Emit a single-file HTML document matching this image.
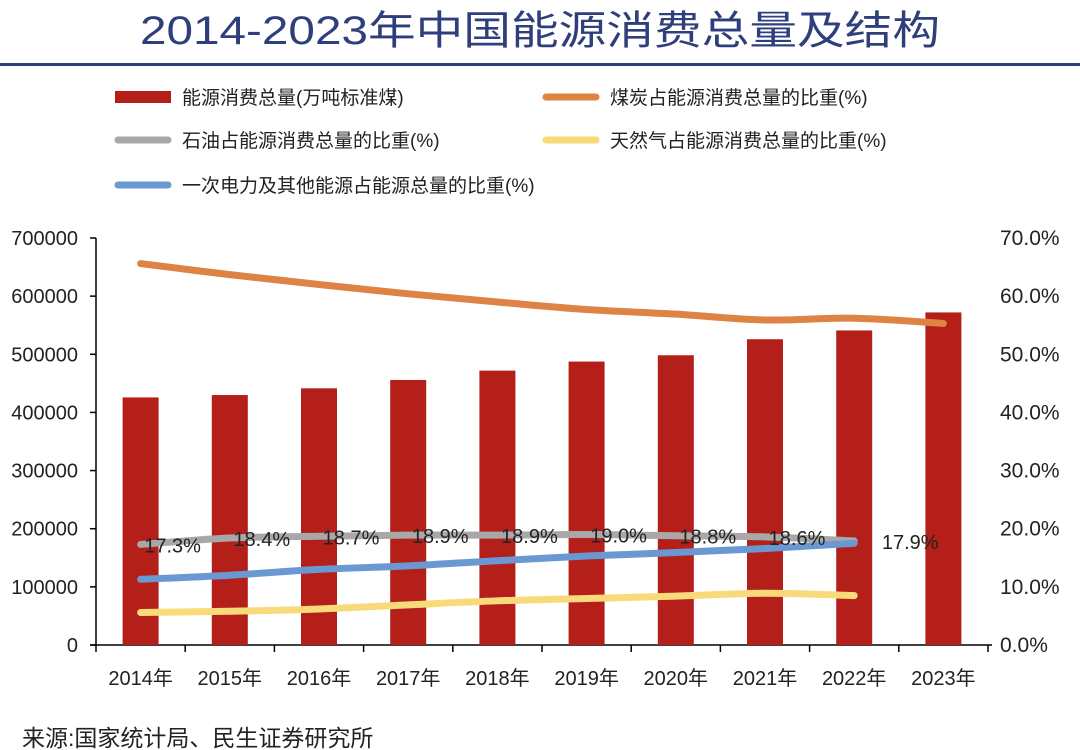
<!DOCTYPE html>
<html><head><meta charset="utf-8"><style>
body{margin:0;background:#fff;width:1080px;height:750px;overflow:hidden;font-family:"Liberation Sans","Noto Sans CJK SC",sans-serif}
svg{position:absolute;left:0;top:0}
</style></head><body>
<svg id="c" width="1080" height="750">
<text x="540" y="44" text-anchor="middle" font-size="40" fill="#2f3f7c" style="font-family:'Liberation Sans','Noto Sans CJK SC',sans-serif" textLength="800" lengthAdjust="spacingAndGlyphs">2014-2023年中国能源消费总量及结构</text>
<rect x="0" y="63" width="1080" height="3" fill="#2f3f7c"/>
<text x="22" y="746" font-size="23" fill="#222">来源:国家统计局、民生证券研究所</text>
</svg>
<script>
const categories=['2014年','2015年','2016年','2017年','2018年','2019年','2020年','2021年','2022年','2023年'];
const totalEnergy=[425806,429905,441492,455827,471925,487488,498314,525896,541000,572000];
const coalShare=[65.6,63.7,62.0,60.4,59.0,57.7,56.9,55.9,56.2,55.3];
const oilShare=[17.3,18.4,18.7,18.9,18.9,19.0,18.8,18.6,17.9];
const oilLabels=['17.3%','18.4%','18.7%','18.9%','18.9%','19.0%','18.8%','18.6%','17.9%'];
const gasShare=[5.6,5.8,6.2,6.9,7.6,8.0,8.4,8.9,8.5];
const elecShare=[11.3,12.0,13.0,13.6,14.5,15.3,15.9,16.6,17.5];
const leftTicks=[0,100000,200000,300000,400000,500000,600000,700000];
const rightTicks=['0.0%','10.0%','20.0%','30.0%','40.0%','50.0%','60.0%','70.0%'];

const svg=document.getElementById('c');const NS='http://www.w3.org/2000/svg';
const X0=96,X1=988,Y0=645,Y1=238;
const band=(X1-X0)/categories.length;
const xc=i=>X0+band*(i+0.5);
const yL=v=>Y0-(v/700000)*(Y0-Y1);
const yR=v=>Y0-(v/70)*(Y0-Y1);
function mk(t,a,name){const e=document.createElementNS(NS,t);for(const k in a)e.setAttribute(k,a[k]);


svg.appendChild(e);return e;}
mk('line',{x1:X0,y1:Y1,x2:X0,y2:Y0,stroke:'#000','stroke-width':1.5},'left-axis');
mk('line',{x1:X0-6,y1:Y0,x2:X1+4,y2:Y0,stroke:'#000','stroke-width':1.5},'x-axis');
leftTicks.forEach((v,i)=>{const y=yL(v);
mk('line',{x1:X0-6,y1:y,x2:X0,y2:y,stroke:'#000','stroke-width':1.5},'left-tick');
const t=mk('text',{x:78,y:y+7,'text-anchor':'end','font-size':20,fill:'#222'},'left-tick-label');t.textContent=v;
const r=mk('text',{x:1000,y:y+7,'font-size':21,fill:'#222'},'right-tick-label');r.textContent=rightTicks[i];});
for(let i=0;i<=categories.length;i++){const x=X0+band*i;mk('line',{x1:x,y1:Y0,x2:x,y2:Y0+7,stroke:'#000','stroke-width':1.5},'x-tick');}
categories.forEach((c,i)=>{const t=mk('text',{x:xc(i),y:685,'text-anchor':'middle','font-size':20,fill:'#222'},'x-tick-label');t.textContent=c;});
totalEnergy.forEach((v,i)=>{mk('rect',{x:xc(i)-18,y:yL(v),width:36,height:Y0-yL(v),fill:'#b41f1a'},'bar-'+categories[i]);});
function smooth(pts){let d='M'+pts[0][0]+','+pts[0][1];
for(let i=0;i<pts.length-1;i++){const p0=pts[i-1]||pts[i],p1=pts[i],p2=pts[i+1],p3=pts[i+2]||p2;
const c1=[p1[0]+(p2[0]-p0[0])/6,p1[1]+(p2[1]-p0[1])/6],c2=[p2[0]-(p3[0]-p1[0])/6,p2[1]-(p3[1]-p1[1])/6];
d+=` C${c1[0]},${c1[1]} ${c2[0]},${c2[1]} ${p2[0]},${p2[1]}`;}return d;}
function line(arr,color,name){mk('path',{d:smooth(arr.map((v,i)=>[xc(i),yR(v)])),fill:'none',stroke:color,'stroke-width':7,'stroke-linecap':'round'},name);}
line(coalShare,'#df8345','coal-line');
line(oilShare,'#a8a8a8','oil-line');
line(gasShare,'#f9da7a','gas-line');
line(elecShare,'#6a98d2','electricity-line');
oilLabels.forEach((l,i)=>{const t=mk('text',{x:xc(i)+(i==8?56:32),y:yR(oilShare[i])+8,'text-anchor':'middle','font-size':20,fill:'#222'},'oil-data-label');t.textContent=l;});
const leg=[['能源消费总量(万吨标准煤)','#b41f1a',115,97,true],['煤炭占能源消费总量的比重(%)','#df8345',543,97],['石油占能源消费总量的比重(%)','#a8a8a8',115,140],['天然气占能源消费总量的比重(%)','#f9da7a',543,140],['一次电力及其他能源占能源总量的比重(%)','#6a98d2',115,185]];
leg.forEach(l=>{if(l[4])mk('rect',{x:l[2],y:l[3]-6,width:56,height:12,fill:l[1]},'legend-swatch');
else mk('line',{x1:l[2]+3,y1:l[3],x2:l[2]+53,y2:l[3],stroke:l[1],'stroke-width':7,'stroke-linecap':'round'},'legend-swatch');
const t=mk('text',{x:l[2]+67,y:l[3]+7,'font-size':19,fill:'#222'},'legend-entry');t.textContent=l[0];});
</script>
</body></html>
